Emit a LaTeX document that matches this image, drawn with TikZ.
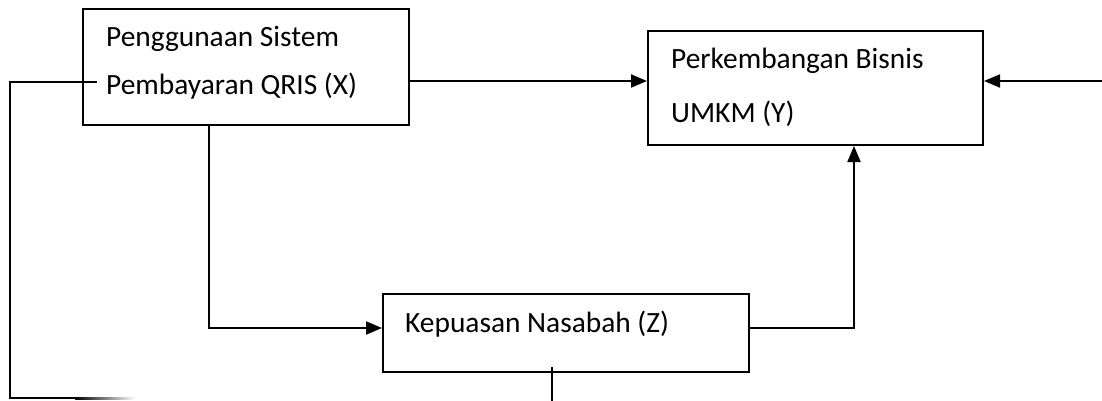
\documentclass[tikz,border=0pt]{standalone}
\usepackage{fontspec}
\setmainfont{Carlito}
\usetikzlibrary{arrows.meta}
\begin{document}
\begin{tikzpicture}[x=1pt,y=-1pt,
  box/.style={draw=black, line width=2pt, fill=none, inner sep=0pt},
  lbl/.style={anchor=base west, inner sep=0pt, font=\fontsize{29.4}{34}\selectfont},
  conn/.style={line width=2pt, draw=black},
  arr/.style={conn, -{Triangle[length=16pt,width=13pt]}}]
\useasboundingbox (0,0) rectangle (1102,401);
% boxes
\node[box, minimum width=326pt, minimum height=116pt] (X) at (246,67) {};
\node[box, minimum width=335pt, minimum height=114pt] (Y) at (815.5,88) {};
\node[box, minimum width=366pt, minimum height=78pt] (Z) at (566,333) {};
% texts
\node[lbl] (X1) at (106,47) {Penggunaan Sistem};
\node[lbl] (X2) at (106,95) {Pembayaran QRIS (X)};
\node[lbl] (Y1) at (671,69) {Perkembangan Bisnis};
\node[lbl] (Y2) at (671,122) {UMKM (Y)};
\node[lbl] (Z1) at (405,332) {Kepuasan Nasabah (Z)};
% connectors
\draw[arr] ([yshift=-14pt]X.east) -- ([yshift=7pt]Y.west);
\coordinate (R) at (1102,81);
\draw[arr] (R) -- (R -| Y.east);
\draw[arr] ([xshift=-37pt]X.south) |- ([yshift=5pt]Z.west);
\draw[arr] ([yshift=5pt]Z.east) -| ([xshift=38.5pt]Y.south);
\coordinate (L1) at (10,82);
\coordinate (L2) at (10,398);
\coordinate (L3) at (76,398);
\draw[conn, line join=miter] ([xshift=15pt,yshift=-15pt]X.west) -- (L1) -- (L2) -- (L3);
\shade[left color=black, right color=white] (75,397) rectangle (135,399);
\coordinate (B) at (552,401);
\draw[conn] ([xshift=-14pt,yshift=6pt]Z.south) -- (B);
\end{tikzpicture}
\end{document}
